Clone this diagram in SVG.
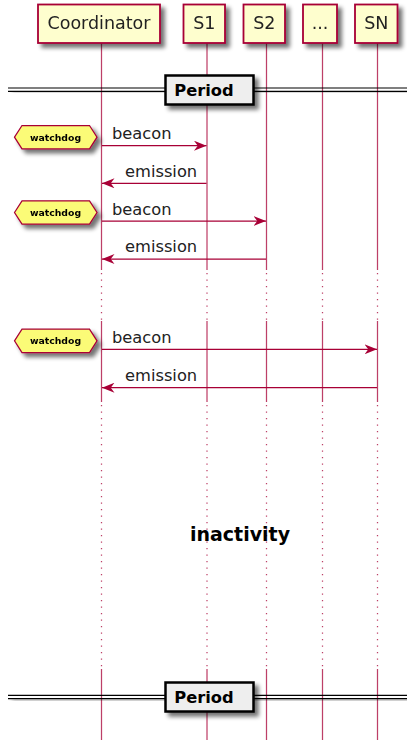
<svg xmlns="http://www.w3.org/2000/svg" width="407" height="740" viewBox="0 0 407 740">
<defs>
<filter id="sh" x="-20%" y="-20%" width="150%" height="170%">
<feGaussianBlur in="SourceAlpha" stdDeviation="2.3"/>
<feOffset dx="4" dy="4" result="b"/>
<feComponentTransfer in="b" result="c"><feFuncA type="linear" slope="0.55"/></feComponentTransfer>
<feMerge><feMergeNode in="c"/><feMergeNode in="SourceGraphic"/></feMerge>
</filter>
<marker id="ah" viewBox="0 0 12.5 10" refX="12.5" refY="5" markerWidth="12.5" markerHeight="10" markerUnits="userSpaceOnUse" orient="auto">
<polygon points="0,0 12.5,5 0,10 3.75,5" fill="#A80036"/>
</marker>
</defs>
<style>
.part{fill:#FEFECE;stroke:#A80036;stroke-width:1.8}
.pt{font-family:"DejaVu Sans",sans-serif;font-size:17.5px;fill:#222;text-anchor:middle}
.life{stroke:#A80036;stroke-width:1.25;opacity:0.75}
.dot{stroke:#A80036;stroke-width:1.25;stroke-dasharray:1.25,5.25;opacity:0.75}
.msg{stroke:#A80036;stroke-width:1.25;fill:none;marker-end:url(#ah)}
.ml{font-family:"DejaVu Sans",sans-serif;font-size:16.3px;fill:#222}
.hex{fill:#FBFB77;stroke:#A80036;stroke-width:1.25}
.ht{font-family:"DejaVu Sans",sans-serif;font-size:9.3px;font-weight:bold;fill:#000;text-anchor:middle}
.dl{stroke:#000;stroke-width:1.2}
.db{fill:#EEEEEE;stroke:#000;stroke-width:2.5}
.dt{font-family:"DejaVu Sans",sans-serif;font-size:16.3px;font-weight:bold;fill:#000;text-anchor:middle}
.it{font-family:"DejaVu Sans",sans-serif;font-size:19px;font-weight:bold;fill:#000;text-anchor:middle}
</style>
<g id="lifelines">
<g id="life-coordinator">
<line class="life" x1="101.5" y1="43" x2="101.5" y2="270"/><line class="dot" x1="101.5" y1="273" x2="101.5" y2="320"/><line class="life" x1="101.5" y1="321" x2="101.5" y2="402"/><line class="dot" x1="101.5" y1="405" x2="101.5" y2="668"/><line class="life" x1="101.5" y1="669" x2="101.5" y2="740"/>
</g>
<g id="life-s1">
<line class="life" x1="207" y1="43" x2="207" y2="270"/><line class="dot" x1="207" y1="273" x2="207" y2="320"/><line class="life" x1="207" y1="321" x2="207" y2="402"/><line class="dot" x1="207" y1="405" x2="207" y2="668"/><line class="life" x1="207" y1="669" x2="207" y2="740"/>
</g>
<g id="life-s2">
<line class="life" x1="266.5" y1="43" x2="266.5" y2="270"/><line class="dot" x1="266.5" y1="273" x2="266.5" y2="320"/><line class="life" x1="266.5" y1="321" x2="266.5" y2="402"/><line class="dot" x1="266.5" y1="405" x2="266.5" y2="668"/><line class="life" x1="266.5" y1="669" x2="266.5" y2="740"/>
</g>
<g id="life-dots">
<line class="life" x1="322.5" y1="43" x2="322.5" y2="270"/><line class="dot" x1="322.5" y1="273" x2="322.5" y2="320"/><line class="life" x1="322.5" y1="321" x2="322.5" y2="402"/><line class="dot" x1="322.5" y1="405" x2="322.5" y2="668"/><line class="life" x1="322.5" y1="669" x2="322.5" y2="740"/>
</g>
<g id="life-sn">
<line class="life" x1="377.5" y1="43" x2="377.5" y2="270"/><line class="dot" x1="377.5" y1="273" x2="377.5" y2="320"/><line class="life" x1="377.5" y1="321" x2="377.5" y2="402"/><line class="dot" x1="377.5" y1="405" x2="377.5" y2="668"/><line class="life" x1="377.5" y1="669" x2="377.5" y2="740"/>
</g>
</g>
<g id="coordinator" filter="url(#sh)"><rect class="part" x="38" y="4.5" width="122" height="38.5"/><text class="pt" x="99" y="29">Coordinator</text></g>
<g id="s1" filter="url(#sh)"><rect class="part" x="183.5" y="4.5" width="41.5" height="38.5"/><text class="pt" x="204.3" y="29">S1</text></g>
<g id="s2" filter="url(#sh)"><rect class="part" x="243.5" y="4.5" width="41.5" height="38.5"/><text class="pt" x="264.3" y="29">S2</text></g>
<g id="sdots" filter="url(#sh)"><rect class="part" x="303" y="4.5" width="34" height="38.5"/><text class="pt" x="320" y="29">...</text></g>
<g id="sn" filter="url(#sh)"><rect class="part" x="355" y="4.5" width="42.5" height="38.5"/><text class="pt" x="376.3" y="29">SN</text></g>
<g id="divider1">
<g filter="url(#sh)"><line class="dl" x1="8" y1="88" x2="407" y2="88"/><line class="dl" x1="8" y1="91.3" x2="407" y2="91.3"/></g>
<rect class="db" x="165.5" y="75.5" width="88" height="29" filter="url(#sh)"/>
<text class="dt" x="204" y="96">Period</text>
</g>
<g id="watchdog1" filter="url(#sh)"><polygon class="hex" points="14.5,137.2 22,125.5 89.5,125.5 97,137.2 89.5,148.9 22,148.9"/><text class="ht" x="55.5" y="140.5">watchdog</text></g>
<g id="watchdog2" filter="url(#sh)"><polygon class="hex" points="14.5,212.5 22,200.8 89.5,200.8 97,212.5 89.5,224.2 22,224.2"/><text class="ht" x="55.5" y="215.8">watchdog</text></g>
<g id="watchdog3" filter="url(#sh)"><polygon class="hex" points="14.5,340.8 22,329.1 89.5,329.1 97,340.8 89.5,352.5 22,352.5"/><text class="ht" x="55.5" y="344.1">watchdog</text></g>
<g id="connectors">
<line class="msg" x1="102" y1="145.7" x2="206.5" y2="145.7"/>
<line class="msg" x1="206.5" y1="183.3" x2="102" y2="183.3"/>
<line class="msg" x1="102" y1="221" x2="266" y2="221"/>
<line class="msg" x1="266" y1="259" x2="102" y2="259"/>
<line class="msg" x1="102" y1="349.3" x2="377" y2="349.3"/>
<line class="msg" x1="377" y1="387.7" x2="102" y2="387.7"/>
<text class="ml" x="112" y="138.5">beacon</text>
<text class="ml" x="125" y="177">emission</text>
<text class="ml" x="112" y="214.5">beacon</text>
<text class="ml" x="125" y="252.3">emission</text>
<text class="ml" x="112" y="342.7">beacon</text>
<text class="ml" x="125" y="380.8">emission</text>
</g>
<g id="delay"><text class="it" x="240" y="541">inactivity</text></g>
<g id="divider2">
<g filter="url(#sh)"><line class="dl" x1="8" y1="695.3" x2="407" y2="695.3"/><line class="dl" x1="8" y1="698.6" x2="407" y2="698.6"/></g>
<rect class="db" x="165.5" y="682.5" width="88" height="29" filter="url(#sh)"/>
<text class="dt" x="204" y="703">Period</text>
</g>
</svg>
